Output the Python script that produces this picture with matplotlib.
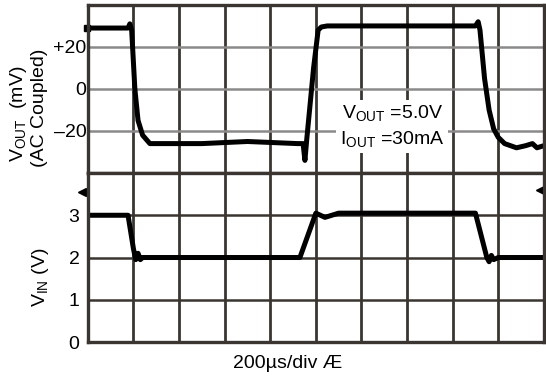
import matplotlib
matplotlib.use("Agg")
import matplotlib.pyplot as plt

plt.rcParams['font.family'] = ['Liberation Sans', 'DejaVu Sans']
plt.rcParams['mathtext.fontset'] = 'custom'
plt.rcParams['mathtext.rm'] = 'Liberation Sans'
plt.rcParams['mathtext.it'] = 'Liberation Sans'

# time axis in divisions (200 us/div)
t_out = [0, 0.88, 0.92, 0.96, 1.03, 1.10, 1.20, 1.36, 2.5, 3.5, 4.6,
         4.72, 4.76, 4.80, 4.95, 5.05, 5.12, 5.25, 8.5, 8.56, 8.6, 8.7,
         8.8, 8.9, 9.0, 9.14, 9.4, 9.6, 9.75, 9.85, 10]
v_out_mv = [29, 29, 31, 28, 0, -15, -22, -26, -26, -25, -26,
            -26, -34, -24, 10, 28, 29.5, 30, 30, 32, 28, 5,
            -10, -19, -23, -26, -28, -27, -26, -28, -27]

t_in = [0, 0.88, 1.0, 1.05, 1.1, 1.15, 1.2, 4.65, 5.0, 5.1, 5.2, 5.35,
        5.5, 8.5, 8.75, 8.8, 8.85, 8.9, 9.0, 10]
v_in = [3.0, 3.0, 2.2, 1.95, 2.1, 1.95, 2.0, 2.0, 3.05, 3.0, 2.95, 3.0,
        3.05, 3.05, 2.0, 1.9, 2.05, 1.95, 2.0, 2.0]

out_ticks = [20, 0, -20]
out_labels = ['+20', '0', '\u201320']
in_ticks = [0, 1, 2, 3]
in_labels = ['0', '1', '2', '3']

grid_dark = '#3a3530'
grid_gray = '#8a8a8a'
trace = '#000000'
fs = 14

fig = plt.figure(figsize=(5.46, 3.79), dpi=100)
ax1 = fig.add_axes([0.161, 0.5435, 0.835, 0.4435])
ax2 = fig.add_axes([0.161, 0.0976, 0.835, 0.4459])

for ax in (ax1, ax2):
    ax.set_xlim(0, 10)
    ax.set_xticks(range(11))
    ax.set_xticklabels([])
    ax.tick_params(length=0)
    for s in ax.spines.values():
        s.set_color(grid_dark)
        s.set_linewidth(2.4)
    ax.xaxis.grid(True, color=grid_dark, linewidth=2.0)
    ax.set_axisbelow(True)

ax1.set_ylim(-40, 40)
ax1.set_yticks(out_ticks)
ax1.set_yticklabels(out_labels, fontsize=fs)
ax1.tick_params(axis='y', pad=1)
ax1.yaxis.grid(True, color=grid_gray, linewidth=1.8)
ax1.plot(t_out, v_out_mv, color=trace, linewidth=3.6, solid_joinstyle='round',
         clip_on=False)

ax2.set_ylim(0, 4)
ax2.set_yticks(in_ticks)
ax2.set_yticklabels(in_labels, fontsize=fs)
ax2.tick_params(axis='y', pad=6)
ax2.yaxis.grid(True, color=grid_dark, linewidth=1.8)
ax2.plot(t_in, v_in, color=trace, linewidth=3.6, solid_joinstyle='round')

# trace position markers
ax1.plot([-0.03], [29], marker='s', color=trace, markersize=4, clip_on=False)
ax2.plot([-0.12], [3.55], marker='<', color=trace, markersize=6, clip_on=False)
ax2.plot([9.92], [3.6], marker='<', color=trace, markersize=6, clip_on=False)

# conditions
ax1.text(5.57, -11.5, 'V$_{\\mathrm{OUT}}$ =5.0V', fontsize=fs, va='center', ha='left',
         bbox=dict(facecolor='white', edgecolor='none', pad=2.5))
ax1.text(5.52, -24.0, 'I$_{\\mathrm{OUT}}$ =30mA', fontsize=fs, va='center', ha='left',
         bbox=dict(facecolor='white', edgecolor='none', pad=2.5))

fig.text(0.033, 0.70, 'V$_{\\mathrm{OUT}}$  (mV)', rotation=90, fontsize=fs,
         ha='center', va='center')
fig.text(0.073, 0.715, '(AC Coupled)', rotation=90, fontsize=fs,
         ha='center', va='center')
fig.text(0.075, 0.268, 'V$_{\\mathrm{IN}}$ (V)', rotation=90, fontsize=fs,
         ha='center', va='center')
fig.text(0.527, 0.042, '200\u00b5s/div \u00c6', fontsize=fs, ha='center', va='center')

fig.savefig('out.png', dpi=100)
